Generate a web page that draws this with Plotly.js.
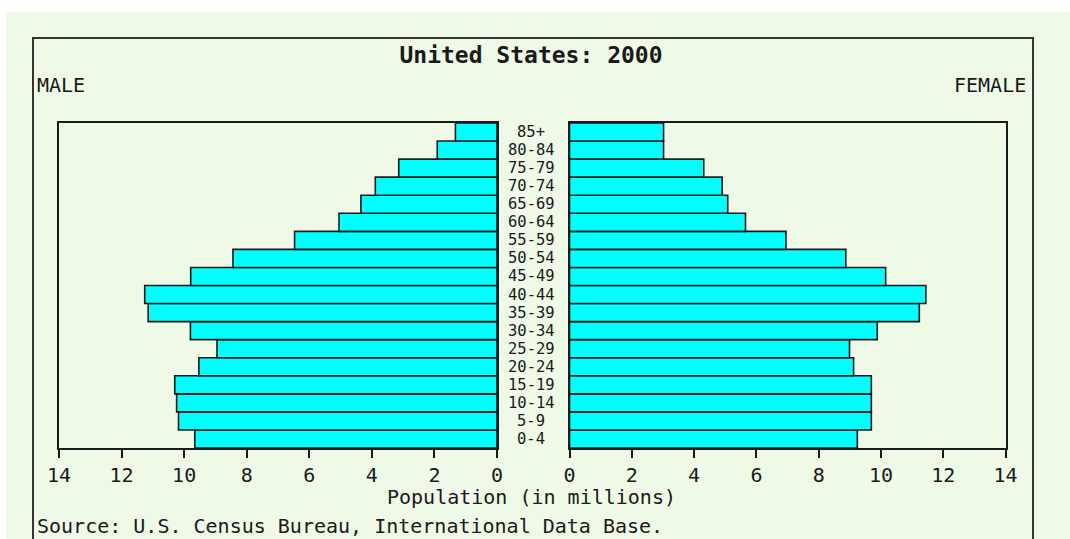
<!DOCTYPE html>
<html>
<head>
<meta charset="utf-8">
<script src="https://cdn.plot.ly/plotly-3.0.1.min.js"></script>
<style>html,body{margin:0;padding:0;background:#fff;}#chart{width:1070px;height:539px;}</style>
</head>
<body>
<div id="chart"></div>
<script>
const ageGroups = ['0-4','5-9','10-14','15-19','20-24','25-29','30-34','35-39','40-44','45-49','50-54','55-59','60-64','65-69','70-74','75-79','80-84','85+'];
const maleMillions = [9.66,10.18,10.24,10.30,9.53,8.95,9.80,11.15,11.26,9.79,8.44,6.47,5.05,4.35,3.89,3.14,1.91,1.33];
const femaleMillions = [9.24,9.69,9.69,9.69,9.12,8.99,9.88,11.23,11.44,10.15,8.87,6.95,5.65,5.08,4.90,4.31,3.02,3.02];
const tickValues = [0,2,4,6,8,10,12,14];
const chartTitle = 'United States: 2000';
const leftLabel = 'MALE';
const rightLabel = 'FEMALE';
const axisTitle = 'Population (in millions)';
const sourceNote = 'Source: U.S. Census Bureau, International Data Base.';

const W = 1070, H = 539;
const px = v => v / W;
const py = v => 1 - v / H;
const FONT = 'DejaVu Sans Mono, Liberation Mono, monospace';
const INK = '#1a1a1a';
const BG = '#eef9e8';

const barStyle = {color: '#00ffff', line: {color: INK, width: 1.6}};
const traces = [
  {type: 'bar', orientation: 'h', x: maleMillions, y: ageGroups, xaxis: 'x', yaxis: 'y', marker: barStyle, hoverinfo: 'x+y', showlegend: false},
  {type: 'bar', orientation: 'h', x: femaleMillions, y: ageGroups, xaxis: 'x2', yaxis: 'y2', marker: barStyle, hoverinfo: 'x+y', showlegend: false}
];

const xCommon = {
  tickvals: tickValues, ticktext: tickValues.map(String),
  ticks: 'outside', ticklen: 8, tickwidth: 2, tickcolor: INK,
  showline: true, linecolor: INK, linewidth: 2, mirror: true,
  showgrid: false, zeroline: false,
  tickfont: {family: FONT, size: 20, color: INK}
};
const yCommon = {
  type: 'category', categoryorder: 'array', categoryarray: ageGroups,
  range: [-0.5, ageGroups.length - 0.5], autorange: false,
  showticklabels: false, ticks: '', showgrid: false, zeroline: false,
  showline: true, linecolor: INK, linewidth: 2, mirror: true
};

const annotations = [
  {text: leftLabel, x: px(35), y: py(84.5), xref: 'paper', yref: 'paper', xanchor: 'left', yanchor: 'middle', showarrow: false, font: {family: FONT, size: 20, color: INK}},
  {text: rightLabel, x: px(1028), y: py(84.5), xref: 'paper', yref: 'paper', xanchor: 'right', yanchor: 'middle', showarrow: false, font: {family: FONT, size: 20, color: INK}},
  {text: axisTitle, x: px(531), y: py(497), xref: 'paper', yref: 'paper', xanchor: 'center', yanchor: 'middle', showarrow: false, font: {family: FONT, size: 20, color: INK}},
  {text: sourceNote, x: px(35), y: py(526), xref: 'paper', yref: 'paper', xanchor: 'left', yanchor: 'middle', showarrow: false, font: {family: FONT, size: 20, color: INK}}
].concat(ageGroups.map(a => ({
  text: a, x: px(531), y: a, xref: 'paper', yref: 'y', xanchor: 'center', yanchor: 'middle', showarrow: false,
  borderpad: 0,
  font: {family: FONT, size: 15.5, color: INK}
})));

const layout = {
  width: W, height: H,
  margin: {l: 0, r: 0, t: 0, b: 0, pad: 0},
  paper_bgcolor: '#ffffff',
  plot_bgcolor: 'rgba(0,0,0,0)',
  bargap: 0,
  showlegend: false,
  title: {text: '<b>' + chartTitle + '</b>', x: px(531), xanchor: 'center', xref: 'paper', y: py(55), yanchor: 'middle', yref: 'container', font: {family: FONT, size: 23, color: INK}},
  xaxis: Object.assign({}, xCommon, {domain: [px(59), px(497)], range: [14, 0], anchor: 'y'}),
  xaxis2: Object.assign({}, xCommon, {domain: [px(569.5), px(1005.6)], range: [0, 14], anchor: 'y2'}),
  yaxis: Object.assign({}, yCommon, {domain: [py(448), py(123)], anchor: 'x'}),
  yaxis2: Object.assign({}, yCommon, {domain: [py(448), py(123)], anchor: 'x2', matches: 'y'}),
  shapes: [
    {type: 'rect', xref: 'paper', yref: 'paper', x0: px(6), x1: 1.01, y0: -0.05, y1: py(12), fillcolor: BG, line: {width: 0}, layer: 'below'},
    {type: 'rect', xref: 'paper', yref: 'paper', x0: px(33), x1: px(1033), y0: -0.05, y1: py(38), fillcolor: 'rgba(0,0,0,0)', line: {color: '#333333', width: 2}, layer: 'below'}
  ],
  annotations: annotations
};

Plotly.newPlot('chart', traces, layout, {displayModeBar: false, staticPlot: true});
</script>
</body>
</html>
